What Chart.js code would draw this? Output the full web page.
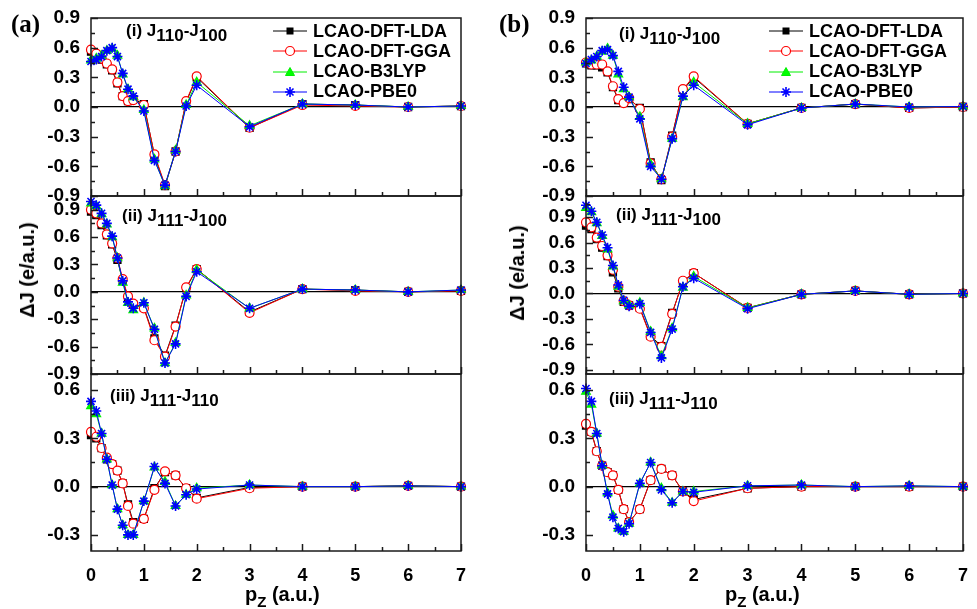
<!DOCTYPE html>
<html>
<head>
<meta charset="utf-8">
<script src="https://cdn.jsdelivr.net/npm/chart.js@4.4.0/dist/chart.umd.min.js"></script>
<style>
  body { margin: 0; background: #fff; }
  #page { position: relative; width: 977px; height: 609px; overflow: hidden;
          font-family: "Liberation Sans", Arial, sans-serif; font-weight: bold; color: #000; }
  #page canvas { position: absolute; }
  .txt { position: absolute; white-space: nowrap; line-height: 1; }
  .plabel { font-size: 17px; }
  .plabel sub { font-size: 100%; vertical-align: -5px; line-height: 0; }
  .tag { font-family: "Liberation Serif", "Times New Roman", serif; font-size: 25px; }
  .ytitle { font-size: 20px; transform: translate(-50%, -50%) rotate(-90deg); }
  .xtitle { font-size: 20px; }
  .xtitle sub { font-size: 15px; vertical-align: -6px; line-height: 0; }
  .legrow { position: absolute; display: flex; align-items: center; height: 20px; font-size: 18px; white-space: nowrap; }
  .legrow svg { margin-right: 6px; }
</style>
</head>
<body>
<div id="page"></div>
<script>
// ---- data ----
const pz = [0, 0.1, 0.2, 0.3, 0.4, 0.5, 0.6, 0.7, 0.8, 1.0, 1.2, 1.4, 1.6, 1.8, 2, 3, 4, 5, 6, 7];
const seriesNames = ["LCAO-DFT-LDA", "LCAO-DFT-GGA", "LCAO-B3LYP", "LCAO-PBE0"];
const xTicks = [0, 1, 2, 3, 4, 5, 6, 7];
const yTicksMain = [-0.9, -0.6, -0.3, 0, 0.3, 0.6, 0.9];
const yTicksLow = [-0.3, 0, 0.3, 0.6];

// (a) (i) J110-J100
const a1_lda = [0.56, 0.53, 0.48, 0.43, 0.37, 0.24, 0.11, 0.06, 0.08, 0.03, -0.49, -0.80, -0.45, 0.05, 0.30, -0.21, 0.03, 0.02, 0.0, 0.01];
const a1_gga = [0.58, 0.54, 0.49, 0.44, 0.38, 0.25, 0.11, 0.06, 0.07, 0.02, -0.48, -0.79, -0.45, 0.06, 0.31, -0.21, 0.02, 0.01, 0.0, 0.01];
const a1_b3lyp = [0.47, 0.49, 0.52, 0.57, 0.59, 0.52, 0.33, 0.18, 0.10, -0.03, -0.53, -0.80, -0.44, 0.02, 0.25, -0.19, 0.03, 0.02, 0.0, 0.01];
const a1_pbe0 = [0.46, 0.48, 0.51, 0.57, 0.60, 0.51, 0.34, 0.18, 0.11, -0.04, -0.54, -0.79, -0.45, 0.01, 0.22, -0.20, 0.03, 0.02, 0.0, 0.01];
// (a) (ii) J111-J100
const a2_lda = [0.88, 0.84, 0.73, 0.62, 0.52, 0.35, 0.12, -0.06, -0.14, -0.17, -0.51, -0.70, -0.37, 0.04, 0.25, -0.22, 0.03, 0.02, 0.0, 0.01];
const a2_gga = [0.90, 0.86, 0.75, 0.63, 0.53, 0.37, 0.14, -0.05, -0.13, -0.18, -0.53, -0.71, -0.38, 0.05, 0.25, -0.23, 0.03, 0.01, 0.0, 0.01];
const a2_b3lyp = [0.97, 0.94, 0.85, 0.74, 0.60, 0.37, 0.10, -0.12, -0.20, -0.12, -0.40, -0.78, -0.56, -0.04, 0.24, -0.18, 0.03, 0.02, 0.0, 0.02];
const a2_pbe0 = [0.99, 0.95, 0.86, 0.75, 0.61, 0.37, 0.12, -0.11, -0.18, -0.12, -0.41, -0.78, -0.57, -0.05, 0.22, -0.18, 0.03, 0.02, 0.0, 0.02];
// (a) (iii) J111-J110
const a3_lda = [0.32, 0.30, 0.24, 0.17, 0.14, 0.10, 0.02, -0.11, -0.22, -0.20, -0.01, 0.09, 0.07, -0.01, -0.07, -0.005, 0.0, 0.0, 0.005, 0.0];
const a3_gga = [0.34, 0.31, 0.24, 0.18, 0.14, 0.10, 0.02, -0.12, -0.23, -0.20, -0.02, 0.095, 0.07, -0.01, -0.075, -0.01, 0.0, 0.0, 0.005, 0.0];
const a3_b3lyp = [0.50, 0.45, 0.33, 0.17, 0.01, -0.14, -0.24, -0.30, -0.30, -0.09, 0.12, 0.03, -0.12, -0.05, -0.01, 0.01, 0.0, 0.0, 0.005, 0.0];
const a3_pbe0 = [0.53, 0.47, 0.33, 0.17, 0.01, -0.14, -0.24, -0.30, -0.30, -0.09, 0.125, 0.02, -0.12, -0.05, -0.015, 0.01, 0.0, 0.0, 0.005, 0.0];
// (b) (i) J110-J100
const b1_lda = [0.44, 0.42, 0.42, 0.40, 0.35, 0.20, 0.07, 0.05, 0.08, -0.01, -0.56, -0.74, -0.29, 0.17, 0.30, -0.17, -0.01, 0.03, -0.01, 0.0];
const b1_gga = [0.45, 0.43, 0.43, 0.43, 0.36, 0.21, 0.08, 0.04, 0.09, -0.02, -0.57, -0.73, -0.30, 0.18, 0.31, -0.17, -0.01, 0.03, -0.01, 0.0];
const b1_b3lyp = [0.45, 0.47, 0.51, 0.56, 0.59, 0.52, 0.33, 0.18, 0.10, -0.10, -0.58, -0.73, -0.32, 0.10, 0.25, -0.17, -0.01, 0.03, 0.0, 0.005];
const b1_pbe0 = [0.44, 0.48, 0.51, 0.57, 0.58, 0.52, 0.36, 0.20, 0.10, -0.12, -0.60, -0.73, -0.32, 0.11, 0.22, -0.18, -0.01, 0.03, 0.0, 0.005];
// (b) (ii) J111-J100
const b2_lda = [0.80, 0.76, 0.64, 0.54, 0.44, 0.25, 0.06, -0.10, -0.14, -0.17, -0.50, -0.62, -0.23, 0.14, 0.24, -0.17, -0.01, 0.03, -0.01, 0.0];
const b2_gga = [0.84, 0.78, 0.66, 0.56, 0.45, 0.28, 0.08, -0.09, -0.14, -0.18, -0.51, -0.63, -0.24, 0.15, 0.24, -0.17, -0.01, 0.03, -0.01, 0.0];
const b2_b3lyp = [1.01, 0.96, 0.83, 0.68, 0.52, 0.32, 0.08, -0.09, -0.14, -0.11, -0.45, -0.74, -0.41, 0.07, 0.20, -0.17, -0.01, 0.03, -0.01, 0.0];
const b2_pbe0 = [1.04, 0.97, 0.84, 0.69, 0.54, 0.33, 0.10, -0.08, -0.15, -0.12, -0.46, -0.76, -0.42, 0.08, 0.18, -0.18, -0.01, 0.03, -0.01, 0.0];
// (b) (iii) J111-J110
const b3_lda = [0.38, 0.34, 0.22, 0.13, 0.09, 0.07, -0.02, -0.14, -0.22, -0.14, 0.04, 0.11, 0.07, -0.03, -0.08, -0.01, 0.0, 0.0, 0.0, 0.0];
const b3_gga = [0.39, 0.34, 0.22, 0.13, 0.09, 0.07, -0.02, -0.14, -0.22, -0.14, 0.04, 0.11, 0.07, -0.03, -0.09, -0.01, 0.0, 0.0, 0.0, 0.0];
const b3_b3lyp = [0.59, 0.51, 0.33, 0.13, -0.04, -0.18, -0.26, -0.28, -0.23, 0.02, 0.15, -0.01, -0.10, -0.03, -0.03, 0.005, 0.01, 0.0, 0.005, 0.0];
const b3_pbe0 = [0.61, 0.53, 0.33, 0.13, -0.045, -0.19, -0.26, -0.28, -0.23, 0.02, 0.15, -0.02, -0.10, -0.03, -0.035, 0.005, 0.01, 0.0, 0.005, 0.0];

// ---- styles ----
const styles = [
  { color: "#000000", fill: "#000000", point: "rect", radius: 5, order: 4 },
  { color: "#ff0000", fill: "#ffffff", point: "circle", radius: 4.5, order: 3 },
  { color: "#00ee00", fill: "#00ff00", point: "triangle", radius: 5, order: 2 },
  { color: "#0000ff", fill: "#0000ff", point: "star", radius: 5, order: 1 },
];

const cols = [{ left: 91, right: 461 }, { left: 586, right: 963 }];
const rows = [{ top: 18, bottom: 196 }, { top: 196, bottom: 374 }, { top: 374, bottom: 551 }];
const PAD = 12;
const tickFont = { family: "'Liberation Sans', Arial, sans-serif", weight: "bold", size: 19 };

const panels = [
  { col: 0, row: 0, min: -0.9, max: 0.9, yTicks: yTicksMain, data: [a1_lda, a1_gga, a1_b3lyp, a1_pbe0],
    label: "(i) J<sub>110</sub>-J<sub>100</sub>", lx: 126, ly: 31 },
  { col: 0, row: 1, min: -0.9, max: 1.05, yTicks: yTicksMain, data: [a2_lda, a2_gga, a2_b3lyp, a2_pbe0],
    label: "(ii) J<sub>111</sub>-J<sub>100</sub>", lx: 122, ly: 216 },
  { col: 0, row: 2, min: -0.4, max: 0.7, yTicks: yTicksLow, data: [a3_lda, a3_gga, a3_b3lyp, a3_pbe0],
    label: "(iii) J<sub>111</sub>-J<sub>110</sub>", lx: 110, ly: 396 },
  { col: 1, row: 0, min: -0.9, max: 0.9, yTicks: yTicksMain, data: [b1_lda, b1_gga, b1_b3lyp, b1_pbe0],
    label: "(i) J<sub>110</sub>-J<sub>100</sub>", lx: 619, ly: 34 },
  { col: 1, row: 1, min: -0.95, max: 1.15, yTicks: yTicksMain, data: [b2_lda, b2_gga, b2_b3lyp, b2_pbe0],
    label: "(ii) J<sub>111</sub>-J<sub>100</sub>", lx: 616, ly: 215 },
  { col: 1, row: 2, min: -0.4, max: 0.7, yTicks: yTicksLow, data: [b3_lda, b3_gga, b3_b3lyp, b3_pbe0],
    label: "(iii) J<sub>111</sub>-J<sub>110</sub>", lx: 609, ly: 399 },
];

const page = document.getElementById("page");

function addText(cls, html, left, top) {
  const d = document.createElement("div");
  d.className = "txt " + cls;
  d.innerHTML = html;
  d.style.left = left + "px";
  d.style.top = top + "px";
  page.appendChild(d);
  return d;
}

// frame round the plot area plus inward tick marks (major and minor)
const frameTicks = {
  id: "frameTicks",
  afterDraw(chart) {
    const ctx = chart.ctx;
    const a = chart.chartArea;
    const xs = chart.scales.x;
    const ys = chart.scales.y;
    ctx.save();
    ctx.strokeStyle = "#1a1a1a";
    ctx.lineWidth = 1.5;
    ctx.strokeRect(a.left, a.top, a.right - a.left, a.bottom - a.top);

    ctx.beginPath();
    const yt = ys.ticks.map(t => t.value);
    const yHalf = (yt[1] - yt[0]) / 2;
    for (let v = yt[0] - 4 * yHalf; v <= ys.max + 1e-9; v += yHalf) {
      if (v < ys.min - 1e-9) continue;
      const major = yt.some(t => Math.abs(t - v) < 1e-6);
      const py = Math.round(ys.getPixelForValue(v)) + 0.5;
      ctx.moveTo(a.left, py);
      ctx.lineTo(a.left + (major ? 7 : 4), py);
    }
    const xt = xs.ticks.map(t => t.value);
    const xHalf = (xt[1] - xt[0]) / 2;
    for (let v = xs.min; v <= xs.max + 1e-9; v += xHalf) {
      const major = xt.some(t => Math.abs(t - v) < 1e-6);
      const px = Math.round(xs.getPixelForValue(v)) + 0.5;
      ctx.moveTo(px, a.bottom);
      ctx.lineTo(px, a.bottom - (major ? 7 : 4));
    }
    ctx.stroke();
    ctx.restore();
  }
};

function zeroPad(s) {
  s.paddingTop = 0;
  s.paddingBottom = 0;
  s.paddingLeft = 0;
  s.paddingRight = 0;
}

panels.forEach(p => {
  const c = cols[p.col];
  const r = rows[p.row];
  const last = p.row === rows.length - 1;
  const xh = last ? 45 : 0;
  const canvas = document.createElement("canvas");
  const w = 60 + (c.right - c.left) + PAD;
  const h = PAD + (r.bottom - r.top) + (last ? xh : PAD);
  canvas.width = w;
  canvas.height = h;
  canvas.style.width = w + "px";
  canvas.style.height = h + "px";
  canvas.style.left = (c.left - 60) + "px";
  canvas.style.top = (r.top - PAD) + "px";
  page.appendChild(canvas);

  const datasets = p.data.map((vals, i) => ({
    label: seriesNames[i],
    data: pz.map((x, k) => ({ x: x, y: vals[k] })),
    borderColor: styles[i].color,
    backgroundColor: styles[i].fill,
    borderWidth: 1,
    pointStyle: styles[i].point,
    pointRadius: styles[i].radius,
    pointBackgroundColor: styles[i].fill,
    pointBorderColor: styles[i].color,
    pointBorderWidth: styles[i].point === "star" ? 1.6 : 1.2,
    order: styles[i].order,
    clip: false,
    tension: 0
  }));

  new Chart(canvas.getContext("2d"), {
    type: "line",
    data: { datasets: datasets },
    options: {
      responsive: false,
      animation: false,
      events: [],
      layout: { padding: { top: PAD, right: PAD, bottom: last ? 0 : PAD, left: 0 } },
      plugins: { legend: { display: false }, tooltip: { enabled: false } },
      scales: {
        x: {
          type: "linear",
          min: 0,
          max: 7,
          grid: { display: false },
          border: { display: false },
          afterBuildTicks: s => { s.ticks = xTicks.map(v => ({ value: v })); },
          ticks: { display: last, padding: 6, color: "#000", font: { ...tickFont, size: 18 },
                   autoSkip: false, maxRotation: 0, callback: v => String(v) },
          afterFit: s => { s.height = xh; zeroPad(s); }
        },
        y: {
          min: p.min,
          max: p.max,
          grid: {
            drawTicks: false,
            lineWidth: 1.2,
            color: ctx => (ctx.tick && Math.abs(ctx.tick.value) < 1e-9 ? "#000" : "rgba(0,0,0,0)")
          },
          border: { display: false },
          afterBuildTicks: s => { s.ticks = p.yTicks.map(v => ({ value: v })); },
          ticks: { padding: 11, color: "#000", font: tickFont, autoSkip: false,
                   callback: v => Number(v).toFixed(1) },
          afterFit: s => { s.width = 60; zeroPad(s); }
        }
      }
    },
    plugins: [frameTicks]
  });

  addText("plabel", p.label, p.lx, p.ly - 9);
});

// legends in the top panels
const legendPos = [{ x: 273, y: 31 }, { x: 769, y: 31 }];
legendPos.forEach(lp => {
  seriesNames.forEach((name, i) => {
    const st = styles[i];
    let mk = "";
    if (st.point === "rect") mk = '<rect x="13.5" y="3.5" width="7" height="7" fill="#000"/>';
    if (st.point === "circle") mk = '<circle cx="17" cy="7" r="4.5" fill="#fff" stroke="#f00" stroke-width="1.2"/>';
    if (st.point === "triangle") mk = '<polygon points="17,2.5 21.5,10.5 12.5,10.5" fill="#0f0" stroke="#0e0"/>';
    if (st.point === "star") mk = '<path d="M17,2 V12 M12,7 H22 M13.5,3.5 L20.5,10.5 M20.5,3.5 L13.5,10.5" stroke="#00f" stroke-width="1.6"/>';
    const row = document.createElement("div");
    row.className = "legrow";
    row.style.left = lp.x + "px";
    row.style.top = (lp.y + i * 20.3 - 10) + "px";
    row.innerHTML = '<svg width="34" height="14"><line x1="0" y1="7" x2="34" y2="7" stroke="' + st.color + '" stroke-width="1"/>' + mk + '</svg><span>' + name + '</span>';
    page.appendChild(row);
  });
});

// column tags and axis titles
addText("tag", "(a)", 11, 11);
addText("tag", "(b)", 499, 11);
addText("ytitle", "ΔJ (e/a.u.)", 27, 270);
addText("ytitle", "ΔJ (e/a.u.)", 517, 273);
addText("xtitle", "p<sub>Z</sub> (a.u.)", 245, 584);
addText("xtitle", "p<sub>Z</sub> (a.u.)", 725, 584);
</script>
</body>
</html>
